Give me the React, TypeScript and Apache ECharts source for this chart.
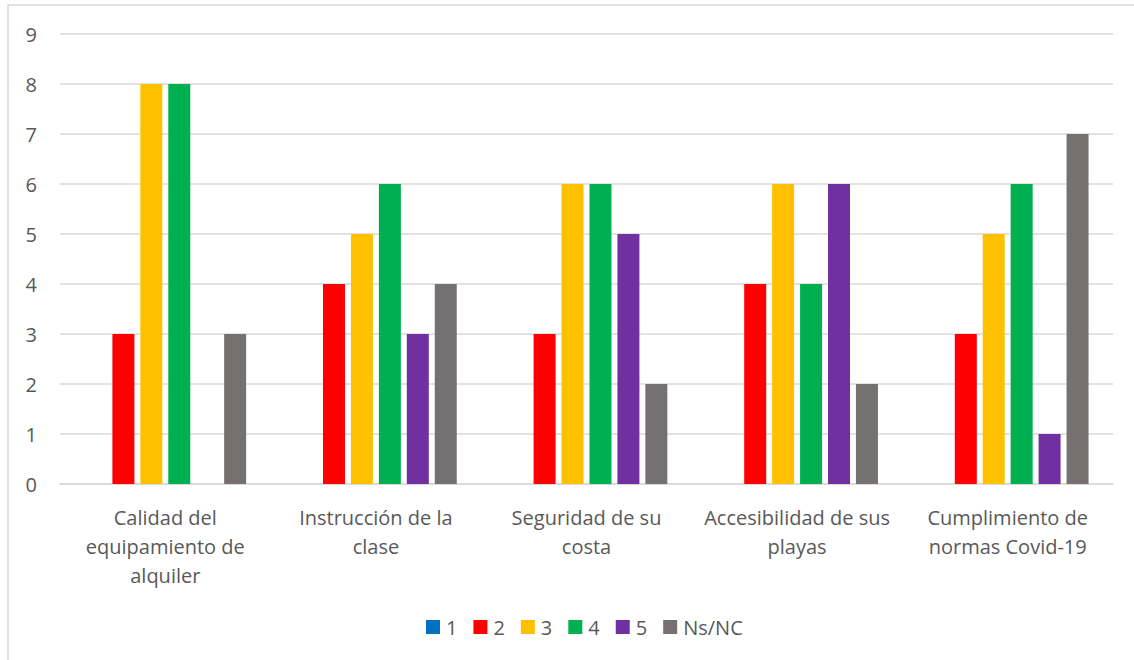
import React, { useEffect, useRef } from "react";
import * as echarts from "echarts";

const categories = [
  "Calidad del\nequipamiento de\nalquiler",
  "Instrucción de la\nclase",
  "Seguridad de su\ncosta",
  "Accesibilidad de sus\nplayas",
  "Cumplimiento de\nnormas Covid-19",
];
const seriesNames = ["1", "2", "3", "4", "5", "Ns/NC"];
const s1 = [0, 0, 0, 0, 0];
const s2 = [3, 4, 3, 4, 3];
const s3 = [8, 5, 6, 6, 5];
const s4 = [8, 6, 6, 4, 6];
const s5 = [0, 3, 5, 6, 1];
const sNs = [3, 4, 2, 2, 7];
const yTicks = [0, 1, 2, 3, 4, 5, 6, 7, 8, 9];
const colors = ["#0070C0", "#FF0000", "#FFC000", "#00B050", "#7030A0", "#767171"];

const FONT = "'Open Sans', 'Noto Sans', sans-serif";

export default function App() {
  const ref = useRef<HTMLDivElement>(null);
  useEffect(() => {
    if (!ref.current) return;
    const chart = echarts.init(ref.current, undefined, { renderer: "svg" });
    const data = [s1, s2, s3, s4, s5, sNs];
    chart.setOption({
      animation: false,
      backgroundColor: "#ffffff",
      textStyle: { fontFamily: FONT },
      graphic: [
        {
          type: "rect",
          shape: { x: 8, y: 5, width: 1200, height: 700 },
          style: { fill: "none", stroke: "#d9d9d9", lineWidth: 1.5 },
          silent: true,
        },
      ],
      grid: { left: 60, right: 21, top: 34, bottom: 176, containLabel: false },
      legend: {
        bottom: 18,
        left: 421,
        itemWidth: 14,
        itemHeight: 14,
        itemGap: 16,
        icon: "rect",
        textStyle: { color: "#595959", fontSize: 20, fontFamily: FONT, padding: [0, 0, 0, 1] },
        data: seriesNames,
      },
      xAxis: {
        type: "category",
        data: categories,
        axisLine: { show: true, lineStyle: { color: "#d9d9d9", width: 1.5 } },
        axisTick: { show: false },
        axisLabel: {
          color: "#595959",
          fontSize: 20,
          lineHeight: 29,
          margin: 19,
          interval: 0,
          fontFamily: FONT,
        },
      },
      yAxis: {
        type: "value",
        min: yTicks[0],
        max: yTicks[yTicks.length - 1],
        interval: 1,
        axisLine: { show: false },
        axisTick: { show: false },
        splitLine: { lineStyle: { color: "#d9d9d9", width: 1.5 } },
        axisLabel: { color: "#595959", fontSize: 20, margin: 23, fontFamily: FONT },
      },
      series: seriesNames.map((name, i) => ({
        name,
        type: "bar",
        data: data[i],
        barWidth: 22,
        barGap: "27%",
        itemStyle: { color: colors[i] },
      })),
    });
    return () => chart.dispose();
  }, []);
  return (
    <div
      ref={ref}
      style={{ position: "absolute", left: 0, top: 0, width: 1134, height: 660 }}
    />
  );
}
